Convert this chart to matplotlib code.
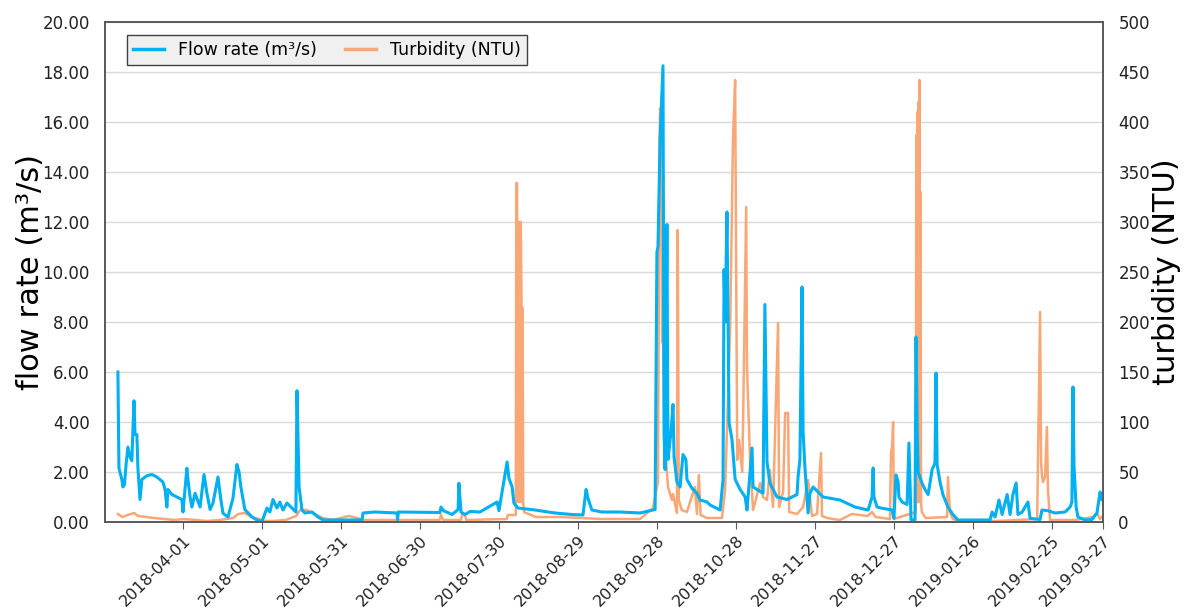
import numpy as np
import matplotlib
matplotlib.use('Agg')
import matplotlib.pyplot as plt

# day offsets counted from 2018-03-01
base_date = np.datetime64('2018-03-01')

flow_day = [6.3, 6.7, 7.8, 8.2, 8.8, 9.4, 10.1, 10.9, 11.6, 12.4, 12.8, 13.5, 13.9, 14.7, 15.4,
            17.3, 19.2, 21.1, 23.4, 24.2, 24.9, 25.3, 26.8, 28.7, 30.6, 31.0, 32.5, 32.9, 33.7,
            34.4, 35.6, 37.5, 39.0, 40.1, 41.3, 42.4, 44.3, 45.4, 46.2, 48.1, 50.0, 51.5, 52.3,
            53.0, 54.5, 57.2, 59.1, 61.0, 62.9, 64.0, 65.2, 66.7, 67.8, 69.0, 70.5, 72.4, 73.9,
            74.3, 75.1, 76.2, 77.3, 80.0, 82.3, 84.2, 99.0, 99.4, 103.9, 112.3, 112.5, 112.8,
            128.6, 129.0, 130.0, 133.2, 135.5, 135.8, 136.6, 138.1, 140.0, 143.8, 150.3, 151.0,
            154.1, 154.8, 156.0, 156.7, 158.2, 164.7, 172.3, 178.7, 182.9, 184.1, 184.8, 186.3,
            190.1, 197.0, 204.6, 210.3, 211.0, 211.4, 212.2, 213.3, 213.7, 214.1, 214.8, 215.2,
            216.3, 217.1, 217.5, 218.6, 219.8, 220.9, 222.0, 222.4, 224.3, 226.2, 227.4, 230.0,
            231.2, 235.0, 236.1, 236.5, 236.9, 237.6, 238.4, 239.5, 240.7, 242.6, 244.5, 245.2,
            247.1, 247.5, 249.0, 251.3, 252.0, 252.8, 253.9, 256.6, 260.4, 264.2, 264.6, 265.3,
            266.1, 266.5, 267.2, 268.4, 269.1, 270.3, 274.1, 280.5, 286.2, 291.2, 292.7, 293.1,
            293.4, 294.6, 296.5, 300.3, 301.0, 301.8, 302.6, 302.9, 304.1, 306.0, 306.7, 307.5,
            309.0, 309.4, 309.8, 310.2, 311.7, 312.8, 314.0, 315.5, 316.6, 317.0, 317.4, 318.5,
            319.6, 321.5, 323.4, 325.3, 337.5, 338.3, 339.4, 340.9, 342.1, 344.0, 345.1, 346.2,
            347.4, 348.1, 349.7, 351.9, 352.7, 354.6, 356.5, 357.2, 359.5, 362.2, 366.0, 367.9,
            368.6, 369.0, 369.4, 370.2, 370.9, 373.6, 376.2, 378.1, 379.3, 380.0]
flow_val = [6.0, 2.15, 1.7, 1.4, 1.5, 2.3, 3.0, 2.6, 2.45, 4.85, 3.5, 3.5, 2.15, 0.9, 1.7,
            1.85, 1.9, 1.8, 1.6, 1.3, 0.6, 1.3, 1.1, 1.0, 0.9, 0.4, 2.15, 1.7, 1.0,
            0.6, 1.15, 0.6, 1.9, 1.15, 0.5, 0.75, 1.8, 0.9, 0.35, 0.2, 0.95, 2.3, 2.0,
            1.4, 0.5, 0.2, 0.08, 0.02, 0.56, 0.4, 0.9, 0.56, 0.8, 0.48, 0.76, 0.56, 0.4,
            5.25, 1.4, 0.48, 0.36, 0.4, 0.2, 0.08, 0.08, 0.36, 0.4, 0.36, 0.08, 0.4,
            0.38, 0.6, 0.45, 0.3, 0.5, 1.55, 0.4, 0.3, 0.42, 0.4, 0.8, 0.45,
            2.4, 1.75, 1.4, 0.75, 0.56, 0.48, 0.36, 0.3, 0.28, 1.3, 0.95, 0.48,
            0.4, 0.4, 0.36, 0.5, 10.8, 11.0, 15.3, 18.25, 3.56, 2.1, 11.9, 2.5,
            3.56, 4.7, 2.6, 1.6, 1.4, 2.7, 2.5, 1.7, 1.35, 1.15, 0.88, 0.8,
            0.68, 0.48, 1.68, 10.1, 8.0, 12.4, 3.96, 3.3, 1.7, 1.3, 1.0, 0.48,
            2.96, 1.4, 1.3, 1.15, 8.7, 2.4, 1.55, 1.0, 0.9, 1.1, 1.8, 2.5,
            9.4, 3.6, 2.2, 0.36, 1.15, 1.4, 1.0, 0.88, 0.6, 0.48, 1.0, 2.16,
            1.0, 0.6, 0.55, 0.48, 0.15, 1.88, 1.6, 1.0, 0.8, 0.7, 3.16, 0.08,
            0.08, 7.4, 3.8, 2.0, 1.55, 1.3, 1.1, 2.1, 2.36, 5.96, 2.3, 1.6,
            1.1, 0.6, 0.3, 0.08, 0.08, 0.4, 0.2, 0.88, 0.3, 1.1, 0.3, 1.1,
            1.56, 0.3, 0.4, 0.8, 0.15, 0.12, 0.1, 0.48, 0.45, 0.36, 0.4, 0.6,
            0.8, 5.4, 2.2, 0.6, 0.2, 0.08, 0.1, 0.36, 1.2, 0.9]

turb_day = [6.3, 8.0, 10.0, 12.4, 14.0, 17.0, 20.0, 24.0, 28.0, 31.0, 36.0, 40.0, 45.0, 50.0,
            52.0, 54.5, 57.0, 60.0, 62.0, 65.0, 70.0, 74.0, 75.5, 78.0, 81.0, 84.0, 88.0, 91.0,
            94.0, 97.0, 100.0, 110.0, 128.5, 129.0, 129.8, 136.6, 137.0, 138.1, 138.6, 154.0,
            154.4, 157.4, 157.6, 157.9, 158.1, 158.3, 158.6, 158.8, 159.1, 159.3, 159.6, 159.8,
            160.0, 160.2, 160.5, 165.0, 174.2, 190.0, 204.6, 209.5,
            211.4, 212.0, 212.2, 212.6, 213.0, 213.3, 214.1, 214.8, 215.2, 216.7, 217.1, 218.6,
            218.9, 219.3, 220.4, 222.4, 225.4, 226.2, 226.9, 227.6, 230.0, 235.7, 236.9, 238.8,
            239.9, 240.7, 241.5, 242.2, 243.4, 243.8, 244.9, 245.2, 246.4, 247.5, 250.2, 251.3,
            252.8, 253.9, 255.1, 257.0, 257.4, 258.9, 259.7, 260.8, 261.2, 264.2, 266.5, 268.4,
            269.9, 271.8, 273.3, 273.7, 275.6, 280.5, 285.0, 291.0, 292.7, 294.0, 299.5, 299.9,
            300.3, 300.7, 301.0, 309.3, 309.5, 309.7, 309.9, 310.1, 310.3, 310.5, 310.7, 310.9,
            311.1, 311.3, 311.6, 313.0, 321.2, 321.5,
            322.3, 323.4, 325.3, 340.0, 355.4, 356.5, 356.9, 357.2, 357.6, 358.4, 359.1, 359.5,
            360.3, 370.0, 376.6, 378.1, 379.3, 380.0]
turb_val = [8, 5, 7, 9, 6, 5, 4, 3, 2, 3, 2, 1, 2, 4,
            8, 9, 5, 3, 1, 1, 2, 6, 12, 12, 8, 4, 2, 4,
            6, 4, 2, 2, 2, 7, 2, 2, 7, 7, 2, 3,
            7, 7, 339, 339, 20, 300, 20, 300, 20, 300, 214, 20,
            214, 20, 10, 5, 5, 3, 3, 14,
            40, 380, 414, 390, 180, 182, 72, 50, 35, 22, 28, 9,
            292, 22, 12, 10, 35, 8, 47, 7, 4, 4, 32, 194,
            385, 442, 62, 82, 50, 115, 315, 155, 60, 12, 39, 25,
            22, 52, 15, 199, 15, 30, 109, 109, 10, 8, 15, 42,
            6, 8, 69, 6, 4, 2, 8, 6, 10, 5, 3, 69,
            75, 100, 3, 10, 387, 20, 410, 20, 420, 20, 442, 20,
            330, 20, 10, 4, 5, 45,
            10, 3, 1, 1, 3, 210, 60, 47, 40, 45, 95, 32,
            2, 2, 5, 9, 3, 5]

tick_labels = ['2018-04-01', '2018-05-01', '2018-05-31', '2018-06-30', '2018-07-30',
               '2018-08-29', '2018-09-28', '2018-10-28', '2018-11-27', '2018-12-27',
               '2019-01-26', '2019-02-25', '2019-03-27']
# which vertical grid lines come out dark in the original
grid_dark = [False, True, False, True, False, False, True, False, True, False, False, True, True]

x_min, x_max = 1.4, 380.4

flow_color = '#00b0f0'
turb_color = '#f9a777'
edge = '#595959'

plt.rcParams['font.family'] = ['DejaVu Sans']

fig = plt.figure(figsize=(11.89, 6.13), dpi=100)
ax1 = fig.add_axes([105 / 1189, 91 / 613, 998 / 1189, 500 / 613])
ax2 = ax1.twinx()
ax1.set_zorder(2)
ax2.set_zorder(1)
ax1.patch.set_visible(False)
ax2.patch.set_facecolor('white')

l2, = ax2.plot(turb_day, turb_val, color=turb_color, lw=1.8, label='Turbidity (NTU)')
l1, = ax1.plot(flow_day, flow_val, color=flow_color, lw=2.2, label='Flow rate (m³/s)')

ax1.set_xlim(x_min, x_max)
ax1.set_ylim(0, 20)
ax2.set_ylim(0, 500)
ax1.set_yticks(np.arange(0, 20.1, 2))
ax1.set_yticklabels(['%.2f' % v for v in np.arange(0, 20.1, 2)])
ax2.set_yticks(np.arange(0, 501, 50))

tick_pos = [(np.datetime64(s) - base_date).astype(int) for s in tick_labels[:-1]] + [x_max]
ax1.set_xticks(tick_pos)
ax1.set_xticklabels(tick_labels, rotation=45, ha='right', rotation_mode='anchor')

ax1.tick_params(axis='y', length=0, labelsize=12, pad=11, colors='#222222')
ax2.tick_params(axis='y', length=0, labelsize=12, pad=11, colors='#222222')
ax1.tick_params(axis='x', length=5, color=edge, labelsize=11.5, pad=3, labelcolor='#222222')

ax2.grid(axis='y', color='#d9d9d9', lw=1)
ax2.set_axisbelow(True)
ax2.grid(axis='x', lw=1)
for gl, dark in zip(ax2.get_xgridlines(), grid_dark):
    gl.set_color('#555555' if dark else '#bdbdbd')

for ax in (ax1, ax2):
    for sp in ax.spines.values():
        sp.set_color(edge)
        sp.set_linewidth(1.2)

ax1.set_ylabel('flow rate (m³/s)', fontsize=22)
ax2.set_ylabel('turbidity (NTU)', fontsize=22)
ax1.yaxis.set_label_coords(-0.060, 0.5)
ax2.yaxis.set_label_coords(1.049, 0.5)

leg = ax1.legend(handles=[l1, l2], loc='upper left', bbox_to_anchor=(0.022, 0.974),
                 borderaxespad=0, ncol=2, fontsize=12.5, frameon=True, fancybox=False,
                 handlelength=1.8, columnspacing=1.6, borderpad=0.35)
leg.get_frame().set_facecolor('#f0f0f0')
leg.get_frame().set_edgecolor('#404040')
leg.get_frame().set_alpha(1)
for h in leg.get_lines():
    h.set_linewidth(2.5)

fig.savefig('out.png', dpi=100)
